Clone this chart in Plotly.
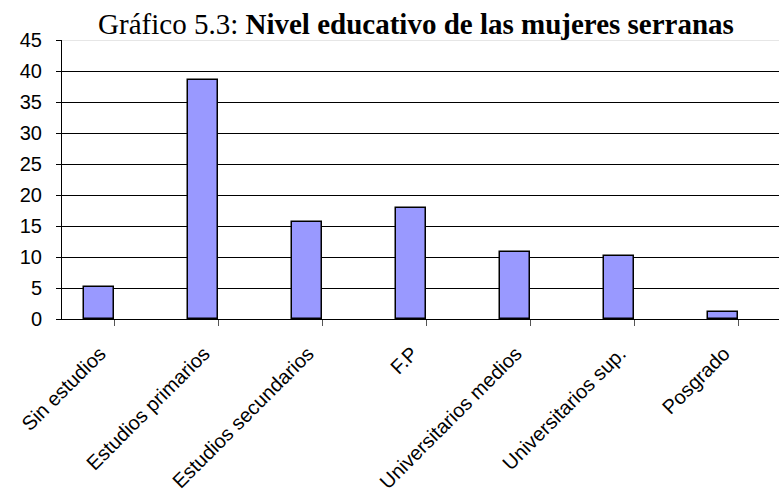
import plotly.graph_objects as go

categories = ["Sin estudios", "Estudios primarios", "Estudios secundarios", "F.P",
              "Universitarios medios", "Universitarios sup.", "Posgrado"]
values = [5.1, 38.5, 15.6, 17.9, 10.8, 10.1, 1.2]
y_ticks = [0, 5, 10, 15, 20, 25, 30, 35, 40, 45]

fig = go.Figure()
fig.add_trace(go.Bar(
    x=list(range(len(categories))), y=values,
    width=0.288, offset=-0.288,
    marker=dict(color="#9999FF", line=dict(color="black", width=1.5)),
    showlegend=False,
))

fig.update_layout(
    width=779, height=497,
    margin=dict(l=62, r=0, t=40, b=178),
    paper_bgcolor="white", plot_bgcolor="white",
    title=dict(
        text="Gráfico 5.3: <b>Nivel educativo de las mujeres serranas</b>",
        font=dict(family="Liberation Serif", size=29, color="black"),
        x=0.534, xanchor="center", xref="container",
        y=0.952, yanchor="middle", yref="container",
    ),
    font=dict(family="Liberation Sans", color="black"),
    bargap=0,
)
fig.update_xaxes(
    range=[-0.5, 6.394],
    tickmode="array", tickvals=list(range(len(categories))), ticktext=categories,
    tickangle=-45, tickfont=dict(size=20, family="Liberation Sans"),
    ticks="outside", ticklen=6, tickcolor="#555", tickson="boundaries",
    ticklabelshift=-14, ticklabelstandoff=8,
    showline=True, linecolor="black", linewidth=1,
    showgrid=False, zeroline=False, automargin=False,
)
fig.update_yaxes(
    range=[0, 45], tickvals=y_ticks,
    tickfont=dict(size=20, family="Liberation Sans"),
    ticks="outside", ticklen=5, tickcolor="black", ticklabelstandoff=10,
    showline=True, linecolor="black", linewidth=1,
    showgrid=True, gridcolor="black", gridwidth=1,
    zeroline=False, automargin=False,
)
fig.add_shape(type="line", xref="paper", yref="y", x0=0, x1=1, y0=45, y1=45,
              line=dict(color="#e6e6e6", width=2), layer="above")

fig.write_html("out.html", config={"displayModeBar": False})
with open("out.html", "r", encoding="utf-8") as f:
    html = f.read()
html = html.replace("<head>", "<head><style>html,body{margin:0;padding:0;overflow:hidden;}</style>", 1)
with open("out.html", "w", encoding="utf-8") as f:
    f.write(html)
